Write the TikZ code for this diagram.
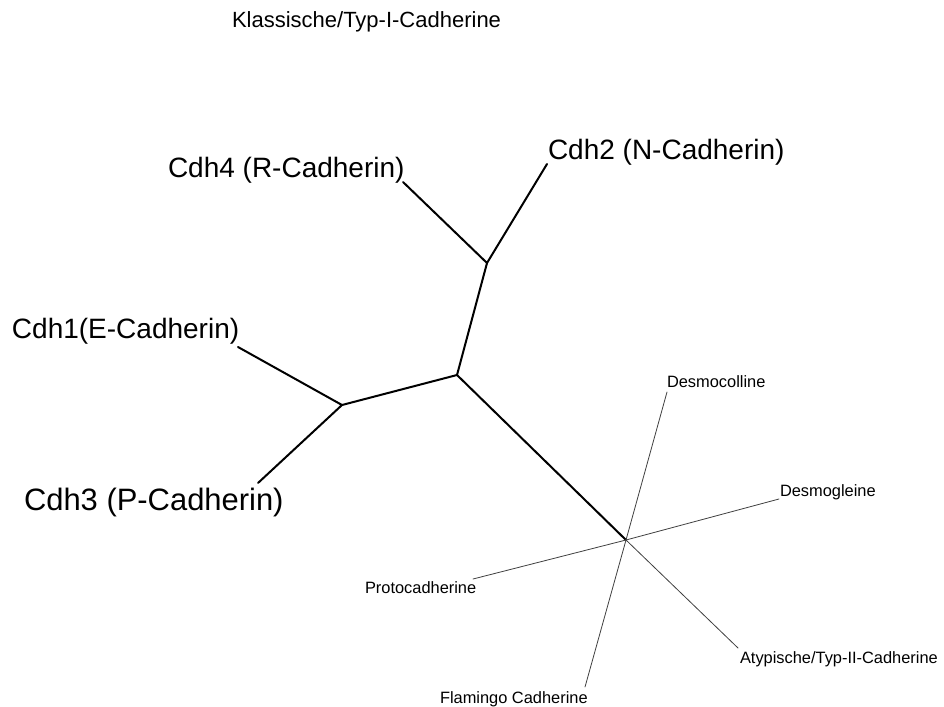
\documentclass[tikz,border=0pt]{standalone}
\usepackage{fontspec}
\setmainfont{Liberation Sans}
\begin{document}
\begin{tikzpicture}[x=0.75pt,y=-0.75pt,
  lbl/.style={anchor=base west,inner sep=0pt,outer sep=0pt},
  biglbl/.style={lbl,font=\fontsize{21}{25}\selectfont},
  smalllbl/.style={lbl,font=\fontsize{12.3}{15}\selectfont},
  thickedge/.style={line width=1.5pt,black,line cap=round},
  thinedge/.style={line width=0.6pt,black!75,line cap=round}]
\useasboundingbox[fill=white] (0,0) rectangle (944,706);
% title
\node[lbl,font=\fontsize{16.5}{20}\selectfont] (title) at (232,28) {Klassische/Typ-I-Cadherine};
% big labels
\node[biglbl] (cdh4) at (168,177) {Cdh4 (R-Cadherin)};
\node[biglbl] (cdh2) at (548,159) {Cdh2 (N-Cadherin)};
\node[biglbl] (cdh1) at (12,338) {Cdh1(E-Cadherin)};
\node[lbl,font=\fontsize{23.2}{28}\selectfont] (cdh3) at (24,510) {Cdh3 (P-Cadherin)};
% small labels
\node[smalllbl] (desmoc) at (667,387) {Desmocolline};
\node[smalllbl] (desmog) at (780,496) {Desmogleine};
\node[smalllbl] (proto) at (365,593) {Protocadherine};
\node[smalllbl] (flam) at (440,703) {Flamingo Cadherine};
\node[smalllbl] (atyp) at (740,663) {Atypische/Typ-II-Cadherine};
% tree coordinates
\coordinate (A) at (487,263);
\coordinate (B) at (457,375);
\coordinate (C) at (342,405);
\coordinate (H) at (626,540);
\coordinate (e2) at (547,164);
\coordinate (e4) at (403,182);
\coordinate (e1) at (238,347);
\coordinate (e3) at (258,483);
\coordinate (ed1) at (667,392);
\coordinate (ed2) at (779,499);
\coordinate (ep) at (473,579);
\coordinate (ef) at (585,687);
\coordinate (ea) at (738,648);
% thick edges
\draw[thickedge] (e2) -- (A) -- (e4);
\draw[thickedge] (A) -- (B) -- (C);
\draw[thickedge] (e1) -- (C) -- (e3);
\draw[thickedge] (B) -- (H);
% thin edges
\draw[thinedge] (H) -- (ed1);
\draw[thinedge] (H) -- (ed2);
\draw[thinedge] (H) -- (ep);
\draw[thinedge] (H) -- (ef);
\draw[thinedge] (H) -- (ea);
\end{tikzpicture}
\end{document}
